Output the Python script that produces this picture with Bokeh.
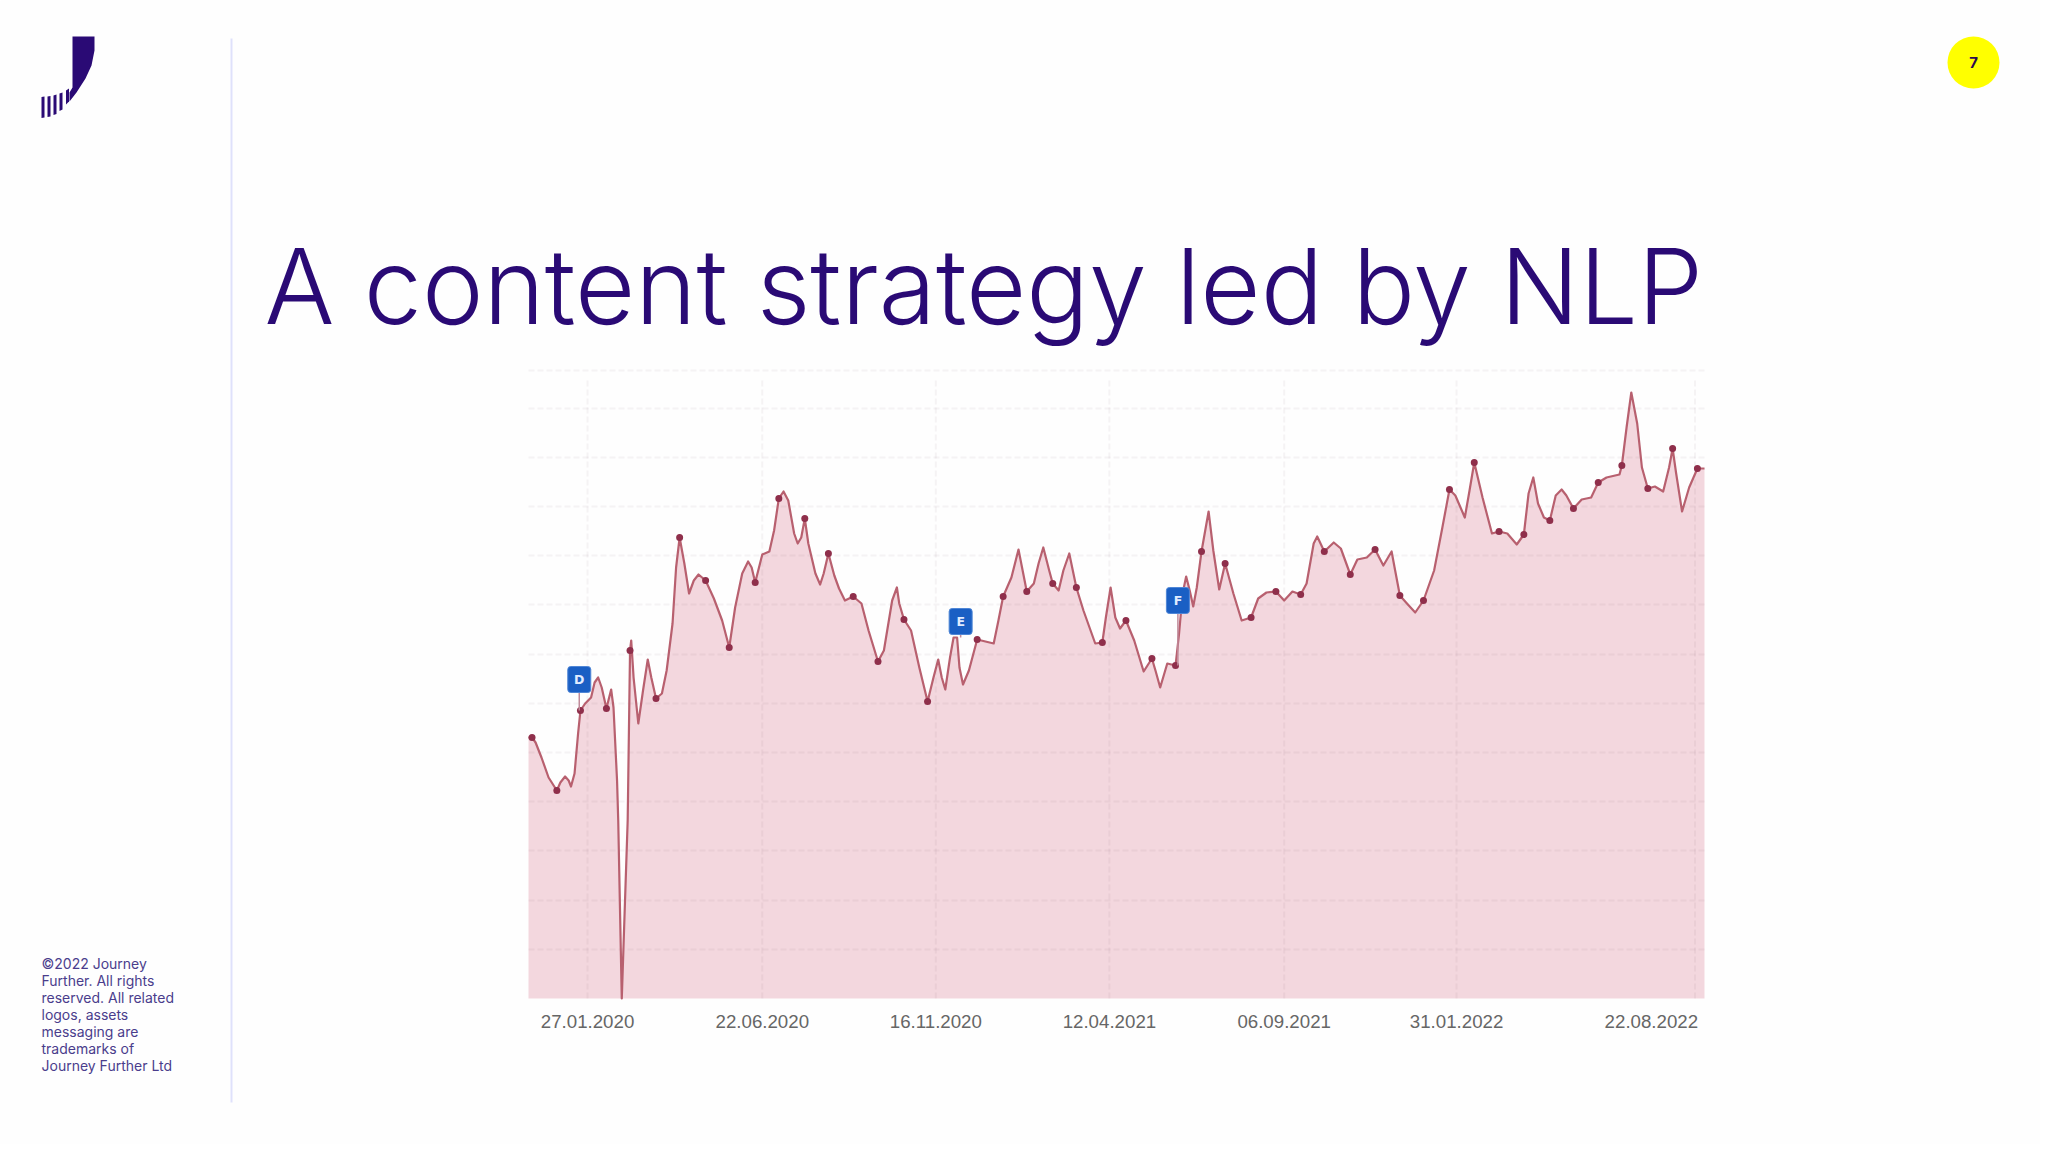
from bokeh.plotting import figure
from bokeh.core.properties import value
from bokeh.models import Range1d, Label, BoxAnnotation, PolyAnnotation, FixedTicker, ColumnDataSource, LinearAxis
from bokeh.embed import file_html
from bokeh.resources import INLINE

title_text = "A content strategy led by NLP"
footer_lines = ["©2022 Journey", "Further. All rights", "reserved. All related", "logos, assets",
                "messaging are", "trademarks of", "Journey Further Ltd"]
page_number = "7"

tick_labels = ["27.01.2020", "22.06.2020", "16.11.2020", "12.04.2021", "06.09.2021", "31.01.2022", "22.08.2022"]
tick_days = [0, 148, 295, 442, 590, 736, 901]
grid_days = [0, 148, 295, 442, 590, 736, 938]
grid_values = [49, 98, 148, 197, 246, 295, 344, 394, 443, 492, 541, 590, 628]

days = [-50, -47, -44, -39, -33, -26, -23, -19, -16, -14, -11, -8, -6, -2, 3, 6, 9, 12, 16, 20, 22, 25, 26, 29,
        34, 36, 37, 39, 43, 47, 51, 54, 58, 63, 67, 72, 75, 78, 82, 86, 90, 94, 100, 107, 114, 120, 125, 131,
        136, 139, 142, 148, 154, 158, 162, 166, 170, 175, 178, 181, 184, 187, 193, 197, 200, 204, 209, 213,
        218, 225, 232, 238, 246, 251, 258, 262, 264, 268, 274, 281, 288, 293, 297, 300, 303, 307, 310, 313,
        315, 318, 323, 330, 337, 344, 348, 352, 359, 365, 369, 372, 378, 382, 386, 391, 394, 399, 403, 408,
        411, 414, 420, 430, 436, 439, 443, 447, 451, 456, 463, 471, 478, 481, 485, 491, 498, 501, 504, 507,
        510, 513, 516, 520, 526, 530, 535, 540, 547, 554, 562, 568, 575, 583, 590, 597, 604, 609, 615, 618,
        624, 632, 638, 646, 652, 660, 667, 674, 681, 684, 688, 694, 701, 708, 717, 724, 730, 735, 743, 747,
        751, 758, 766, 772, 779, 787, 793, 797, 801, 805, 810, 815, 820, 825, 829, 835, 842, 850, 856, 863,
        874, 876, 880, 884, 889, 893, 898, 904, 911, 916, 919, 922, 927, 933, 940, 946]
values = [261, 261, 256, 241, 221, 208, 216, 222, 218, 212, 225, 265, 288, 295, 301, 316, 321, 311, 290, 309, 291, 218, 178, 0,
          178, 348, 358, 321, 275, 308, 339, 321, 300, 305, 328, 375, 431, 461, 435, 405, 418, 424, 418, 400, 378, 351, 391, 425,
          437, 431, 416, 444, 447, 468, 500, 507, 498, 465, 455, 461, 480, 455, 425, 414, 425, 445, 423, 410,
          398, 402, 395, 368, 337, 348, 398, 411, 395, 379, 368, 331, 297, 321, 339, 321, 309, 341, 361, 361,
          331, 314, 328, 359, 357, 355, 378, 402, 421, 449, 425, 407, 415, 435, 451, 428, 415, 408, 428, 445,
          428, 411, 388, 355, 356, 381, 411, 381, 370, 378, 358, 327, 340, 328, 311, 335, 333, 365, 405, 422,
          408, 392, 411, 447, 487, 448, 409, 435, 405, 378, 381, 400, 406, 407, 398, 407, 404, 415, 455, 462,
          447, 456, 450, 424, 439, 441, 449, 433, 447, 428, 403, 395, 386, 398, 428, 471, 509, 503, 481, 508,
          536, 501, 465, 467, 465, 454, 464, 505, 521, 495, 481, 478, 503, 509, 503, 490, 499, 501, 516, 521,
          524, 533, 571, 606, 575, 531, 510, 512, 507, 531, 550, 525, 487, 511, 530, 530]

marker_days = [-47, -26, -6, 16, 36, 58, 78, 100, 120, 142, 162, 184, 204, 225, 246, 268, 288, 330, 352, 372, 394,
               414, 436, 456, 478, 498, 520, 540, 562, 583, 604, 624, 646, 667, 688, 708, 730, 751, 772, 793, 815,
               835, 856, 876, 898, 919, 940]
marker_values = [261, 208, 288, 290, 348, 300, 461, 418, 351, 416, 500, 480, 445, 402, 337, 379, 297, 359, 402, 407, 415,
                 411, 356, 378, 340, 333, 447, 435, 381, 407, 404, 447, 424, 449, 403, 398, 509, 536, 467, 464, 478,
                 490, 516, 533, 510, 550, 530]

flag_names = ["D", "E", "F"]
flag_days = [-7, 316, 500]
flag_values = [319, 377, 398]
flag_bases = [288, 361, 333]


# Page pixels -> chart scale; the plot frame fills the page so the slide furniture shares one coordinate system
def X(px):
    return -50 + (px - 528) * 996 / 1176


def Y(py):
    return 998 - py


PAGE_W, PAGE_H = 2040, 1144

p = figure(width=PAGE_W, height=PAGE_H, output_backend="svg", toolbar_location=None,
           x_range=Range1d(X(0), X(PAGE_W)), y_range=Range1d(Y(PAGE_H), Y(0)),
           x_axis_type=None, y_axis_type=None,
           min_border_left=0, min_border_right=0, min_border_top=0, min_border_bottom=0)
p.outline_line_color = None
p.background_fill_color = "#fefefe"
p.border_fill_color = "#fefefe"

xaxis = LinearAxis(fixed_location=0, bounds=(-50, 946))
xaxis.ticker = FixedTicker(ticks=tick_days)
xaxis.major_label_overrides = dict(zip(tick_days, tick_labels))
xaxis.axis_line_color = None
xaxis.major_tick_line_color = None
xaxis.minor_tick_line_color = None
xaxis.major_label_text_font = "Liberation Sans"
xaxis.major_label_text_font_size = "18.7px"
xaxis.major_label_text_color = "#666666"
xaxis.major_label_standoff = 10
p.add_layout(xaxis, "below")

src = ColumnDataSource(dict(day=days, value=values))
p.varea(x="day", y1=0, y2="value", source=src, fill_color="#f3d7de")

# Chart grid stops at the chart's own extent, so it is drawn as segments rather than frame-wide Grid models
grid_style = dict(line_color="#5a3a4a", line_alpha=0.055, line_width=2)
vgrid = p.segment(x0=grid_days, y0=[0] * len(grid_days), x1=grid_days, y1=[618] * len(grid_days), **grid_style)
hgrid = p.segment(x0=[-50] * len(grid_values), y0=grid_values, x1=[946] * len(grid_values), y1=grid_values, **grid_style)
vgrid.glyph.line_dash = [6, 3]
hgrid.glyph.line_dash = [6, 3]

p.line(x="day", y="value", source=src, line_color="#b8606f", line_width=2.2, line_join="round")
p.scatter(x=marker_days, y=marker_values, size=7, marker="circle", fill_color="#8f2f4b", line_color=None)

p.segment(x0=flag_days, y0=flag_bases, x1=flag_days, y1=flag_values, line_color="#c08a9a", line_width=1.5)
p.rect(x=flag_days, y=flag_values, width=23, height=26, width_units="screen", height_units="screen",
       fill_color="#1a5fc4", line_color="#4f86d6", line_width=1, border_radius=3)
p.text(x=flag_days, y=flag_values, text=flag_names, text_color="#e0ecff", text_font=value("DejaVu Sans"),
       text_font_size="12.5px", text_font_style="bold", text_align="center", text_baseline="middle")

# Logo
logo_body = [(72, 36), (94, 36), (94, 50), (91, 65), (85, 78), (76, 92), (69, 101), (69, 92), (72, 87)]
logo_stripes = [[(41, 96.5), (44, 96), (44, 117), (41, 117.5)],
                [(47, 96), (50, 95.5), (50, 116), (47, 116.5)],
                [(53, 95), (56, 94), (56, 113.5), (53, 114.5)],
                [(59, 93), (62, 92), (62, 109), (59, 110.5)],
                [(65.5, 90), (68.5, 88), (68.5, 101), (65.5, 104)]]
for shape in [logo_body] + logo_stripes:
    p.add_layout(PolyAnnotation(xs=[X(a) for a, b in shape], ys=[Y(b) for a, b in shape],
                                fill_color="#2a0a75", fill_alpha=1, line_color=None))

# Divider and page badge
p.add_layout(BoxAnnotation(left=X(230), right=X(232), top=Y(38), bottom=Y(1102),
                           fill_color="#dfe1fb", fill_alpha=1, line_color=None))
p.scatter(x=[X(1973)], y=[Y(62)], size=52, marker="circle", fill_color="#ffff00", line_color=None)
p.add_layout(Label(x=X(1973), y=Y(62), text=page_number, text_font="Inter", text_font_style="bold",
                   text_font_size="15px", text_color="#2a0a50", text_align="center", text_baseline="middle"))

p.add_layout(Label(x=X(264), y=Y(285), text=title_text, text_font="Inter Light", text_font_size="104px",
                   text_color="#2a0a75", text_align="left", text_baseline="alphabetic"))

for i, line in enumerate(footer_lines):
    p.add_layout(Label(x=X(41), y=Y(963 + 17 * i), text=line, text_font="Inter", text_font_size="14px",
                       text_color="#4a3d8c", text_align="left", text_baseline="middle"))

open("out.html", "w").write(file_html(p, INLINE))
